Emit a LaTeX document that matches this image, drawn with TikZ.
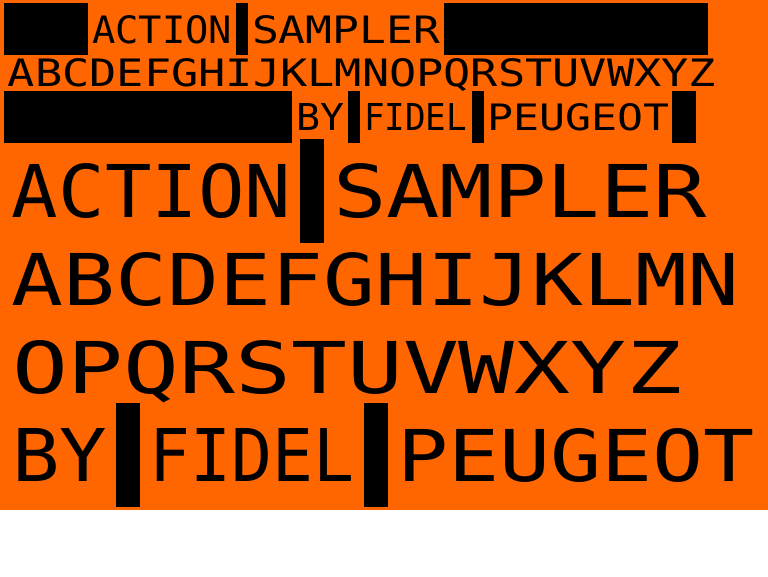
\documentclass[tikz,border=0pt]{standalone}
\usepackage{fontspec}
\usepackage{graphicx}
\newfontfamily\dotfont{DejaVu Sans Mono}
\definecolor{bgorange}{HTML}{FF6600}
\newcommand{\fitword}[3]{\resizebox{#1pt}{#2pt}{\dotfont #3}}
\tikzset{
  word/.style={anchor=north west, inner sep=0pt, outer sep=0pt, text=black},
  bar/.style={fill=black}
}
\begin{document}
\begin{tikzpicture}[x=1pt,y=-1pt]
\useasboundingbox (0,0) rectangle (768,576);
\fill[white] (0,0) rectangle (768,576);
\fill[bgorange] (0,0) rectangle (768,510);
% black bars
\fill[bar] (4,3) rectangle (88,55);
\fill[bar] (236,3) rectangle (248,55);
\fill[bar] (444,3) rectangle (708,55);
\fill[bar] (4,91) rectangle (292,143);
\fill[bar] (348,91) rectangle (360,143);
\fill[bar] (472,91) rectangle (484,143);
\fill[bar] (672,91) rectangle (696,143);
\fill[bar] (300,139) rectangle (324,243);
\fill[bar] (116,403) rectangle (140,507);
\fill[bar] (364,403) rectangle (388,507);
% small rows
\node[word] (sAction) at (92,15) {\fitword{140}{28}{ACTION}};
\node[word] (sSampler) at (252,15) {\fitword{188}{28}{SAMPLER}};
\node[word] (sAlpha) at (8,58) {\fitword{708}{28}{ABCDEFGHIJKLMNOPQRSTUVWXYZ}};
\node[word] (sBy) at (296,103) {\fitword{48}{27}{BY}};
\node[word] (sFidel) at (364,103) {\fitword{103}{27}{FIDEL}};
\node[word] (sPeugeot) at (487,103) {\fitword{182}{27}{PEUGEOT}};
% large rows
\node[word] (lAction) at (12,163) {\fitword{279}{54}{ACTION}};
\node[word] (lSampler) at (333,163) {\fitword{374}{54}{SAMPLER}};
\node[word] (lAN) at (12,252) {\fitword{727}{53}{ABCDEFGHIJKLMN}};
\node[word] (lOZ) at (12,340) {\fitword{670}{53}{OPQRSTUVWXYZ}};
\node[word] (lBy) at (12,428) {\fitword{95}{53}{BY}};
\node[word] (lFidel) at (149,428) {\fitword{205}{53}{FIDEL}};
\node[word] (lPeugeot) at (397,428) {\fitword{358}{53}{PEUGEOT}};
\end{tikzpicture}
\end{document}
